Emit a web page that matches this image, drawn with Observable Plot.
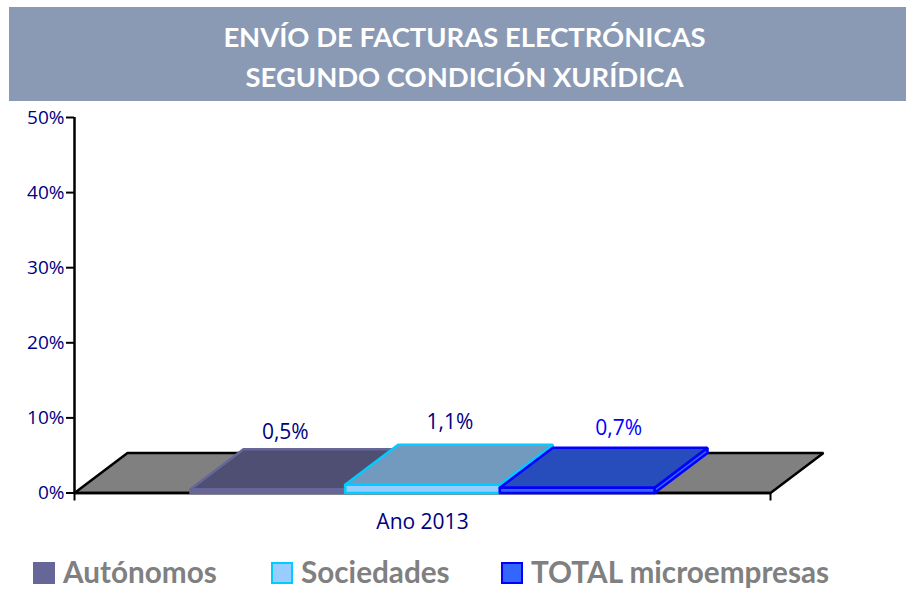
<!DOCTYPE html>
<html><head><meta charset="utf-8">
<script src="https://cdn.jsdelivr.net/npm/d3@7"></script>
<script src="https://cdn.jsdelivr.net/npm/@observablehq/plot@0.6"></script>
<style>
html,body{margin:0;padding:0;background:#fff;width:906px;height:590px;overflow:hidden}
#wrap{position:relative;width:906px;height:590px}
#banner{position:absolute;left:9px;top:7px;width:897px;height:94px;background:#8a9ab5;color:#fff;
 font:bold 27.4px/40px Lato,"Open Sans",sans-serif;text-align:center;box-sizing:border-box;padding:10px 0 0 14px}
#chart{position:absolute;left:0;top:101px}
#chart svg{display:block;overflow:visible}
.lg{position:absolute;top:557px;font:bold 29.7px/30px Lato,"Open Sans",sans-serif;color:#808080;white-space:nowrap}
.sw{position:absolute;top:562px;width:18px;height:18px;border:2.5px solid}
</style></head><body>
<div id="wrap">
<div id="banner">ENVÍO DE FACTURAS ELECTRÓNICAS<br>SEGUNDO CONDICIÓN XURÍDICA</div>
<div id="chart"></div>
<div id="legend"></div>
</div>
<script>
const categories = ["Autónomos","Sociedades","TOTAL microempresas"];
const values = [0.5,1.1,0.7];
const valueLabels = ["0,5%","1,1%","0,7%"];
const yTicks = [0,10,20,30,40,50];
const xLabel = "Ano 2013";

const topFill = ["#4f4f73","#7299be","#264dbb"];
const frontFill = ["#666699","#99ccff","#3366ff"];
const strokes = ["#666699","#00ccff","#0000ff"];
const labelFill = ["#000080","#000080","#0000ff"];
const labelDx = [-9,1,15];
const labelDy = [-17,-22,-19.5];
const legendSwatchX = [33,271,501];
const legendTextX = [63,301,531];

// category axis: 9 units wide, gap 1.5 units each side, each bar 2 units
const depthX = 0.685, depthY = 5.33;
const poly = (id, pts) => [...pts, pts[0]].map(([x,y]) => ({id,x,y}));
const line = (pts, fill, stroke, sw = 2.6) =>
  Plot.line(poly("p", pts), {x:"x", y:"y", z:"id", fill, stroke, strokeWidth:sw, strokeLinejoin:"miter", curve:"linear"});

const floor = line([[0,0],[9,0],[9+depthX,depthY],[depthX,depthY]], "#808080", "#000000", 2.5);

const barMarks = values.flatMap((v,i) => {
  const x0 = 1.5 + i*2, x1 = x0 + 2;
  return [
    line([[x1,0],[x1,v],[x1+depthX,v+depthY],[x1+depthX,depthY]], frontFill[i], strokes[i]),
    line([[x0,v],[x1,v],[x1+depthX,v+depthY],[x0+depthX,v+depthY]], topFill[i], strokes[i]),
    line([[x0,0],[x1,0],[x1,v],[x0,v]], frontFill[i], strokes[i])
  ];
});

const labelMarks = values.map((v,i) => Plot.text([valueLabels[i]], {
  x: () => 1.5 + i*2 + 1 + depthX/2,
  y: () => v + depthY,
  text: d => d, fill: labelFill[i], dx: labelDx[i], dy: labelDy[i], fontSize: 21
}));

const plot = Plot.plot({
  width: 906, height: 434,
  marginLeft: 74, marginRight: 136, marginTop: 16, marginBottom: 42.5,
  x: {type:"linear", domain:[0,9], axis:null},
  y: {type:"linear", domain:[0,50], axis:null},
  style: {fontFamily:'"Open Sans",sans-serif', background:"transparent", overflow:"visible"},
  marks: [
    floor,
    Plot.ruleY([0], {x1:0, x2:9, stroke:"#000", strokeWidth:2.5}),
    ...barMarks,
    Plot.ruleX([0], {y1:0, y2:50, stroke:"#000", strokeWidth:2.5}),
    Plot.axisY(yTicks, {anchor:"left", tickSize:8, tickPadding:2, stroke:"#000", strokeWidth:2,
      tickFormat:d=>d+"%", fill:"#000080", fontSize:19, textStroke:"none", label:null}),
    Plot.axisX([0,9], {anchor:"bottom", tickSize:8, stroke:"#000", strokeWidth:2, tickFormat:()=>"", label:null}),
    Plot.text([xLabel], {x:()=>4.5, y:()=>0, text:d=>d, fill:"#000080", dy:29, fontSize:21}),
    ...labelMarks
  ]
});
document.getElementById("chart").appendChild(plot);

const legend = document.getElementById("legend");
categories.forEach((c,i) => {
  const s = document.createElement("div");
  s.className = "sw";
  s.style.left = legendSwatchX[i]+"px";
  s.style.background = frontFill[i];
  s.style.borderColor = strokes[i];
  legend.appendChild(s);
  const t = document.createElement("div");
  t.className = "lg";
  t.style.left = legendTextX[i]+"px";
  t.textContent = c;
  legend.appendChild(t);
});
</script>
</body></html>
